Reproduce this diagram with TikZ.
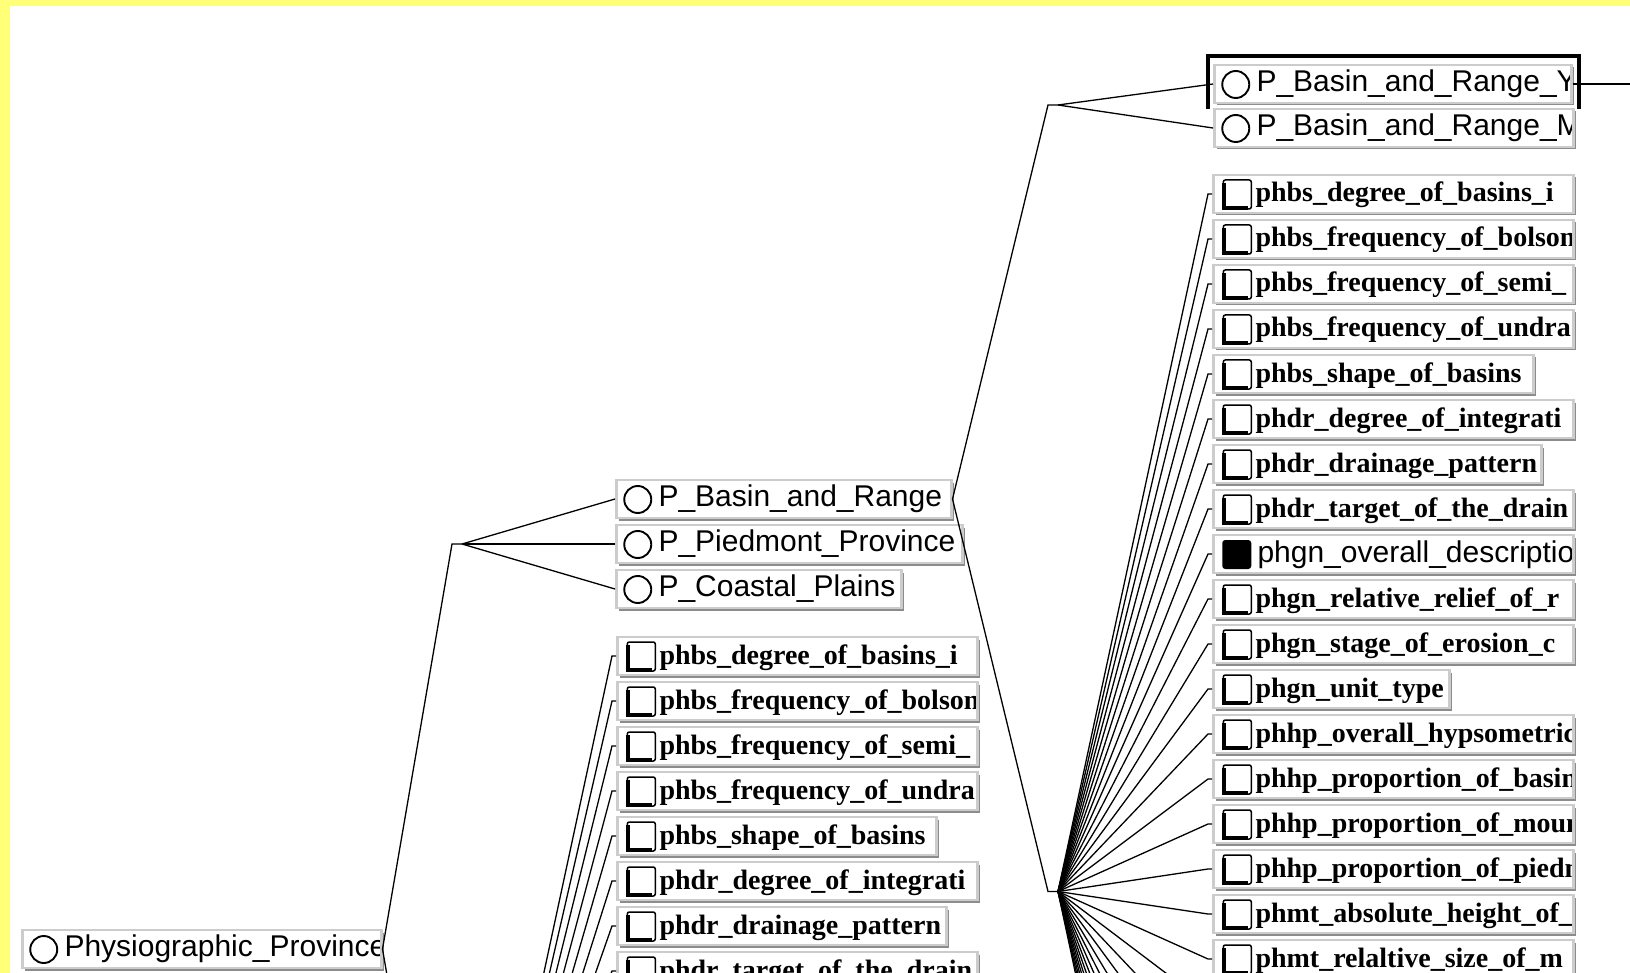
\documentclass[tikz,border=0pt]{standalone}
\usepackage{fontspec}
\newfontfamily\clsfont{Liberation Sans}
\newfontfamily\slotfont{Liberation Serif}
\usetikzlibrary{shadows}
\definecolor{frameyellow}{RGB}{255,255,120}

\begin{document}
\begin{tikzpicture}[x=1pt, y=-1pt]
        % Define styles
        \tikzset{
          box/.style={rectangle, draw=gray!40, line width=2.5pt, fill=white, inner sep=0pt, minimum height=38pt, anchor=west,
            drop shadow={shadow xshift=2.5pt, shadow yshift=-2.5pt, fill=gray!90, opacity=1}},
          boxtext/.style={anchor=base west, inner sep=0pt, minimum width=0pt, minimum height=0pt, draw=none, fill=none, text=black},
          clsbox/.style 2 args={box, minimum width=#1, path picture={
            \coordinate (o) at (path picture bounding box.west);
            \draw[black, line width=1.9pt] ([xshift=21.5pt, yshift=-0.5pt]o) circle[radius=13.5pt];
            \node[boxtext, font=\clsfont\fontsize{30}{30}\selectfont] at ([xshift=41pt, yshift=-7.5pt]o) {#2};}},
          slotbox/.style 2 args={box, minimum width=#1, path picture={
            \coordinate (o) at (path picture bounding box.west);
            \draw[black, line width=1.5pt, rounded corners=2pt] ([xshift=10pt, yshift=14pt]o) rectangle ([xshift=38pt, yshift=-15pt]o);
            \draw[black, line width=3.8pt] ([xshift=11pt, yshift=11pt]o) -- ([xshift=11pt, yshift=-14pt]o) -- ([xshift=35pt, yshift=-14pt]o);
            \node[boxtext, font=\slotfont\bfseries\fontsize{28}{28}\selectfont] at ([xshift=41pt, yshift=-8pt]o) {#2};}},
          ownbox/.style 2 args={box, minimum width=#1, path picture={
            \coordinate (o) at (path picture bounding box.west);
            \fill[black, rounded corners=3pt] ([xshift=9pt, yshift=14pt]o) rectangle ([xshift=38pt, yshift=-15pt]o);
            \node[boxtext, font=\clsfont\fontsize{30}{30}\selectfont] at ([xshift=43pt, yshift=-8pt]o) {#2};}},
          conn/.style={line width=1.3pt, black},
          selframe/.style={line width=4pt, black}
        }

        % Canvas with yellow frame
        \useasboundingbox (0,0) rectangle (1630,973);
        \fill[frameyellow] (0,0) rectangle (1630,973);
        \fill[white] (10,6) rectangle (1630,973);
        \clip (10,6) rectangle (1630,973);

        % Root class
        \node (phys) [clsbox={359pt}{Physiographic\_Province}] at (21,949) {};

        % Subclasses of the root
        \node (pbr) [clsbox={335pt}{P\_Basin\_and\_Range}] at (615,499) {};
        \node (ppp) [clsbox={346pt}{P\_Piedmont\_Province}] at (615,544) {};
        \node (pcp) [clsbox={285pt}{P\_Coastal\_Plains}] at (615,589) {};

        % Slots of the root
        \foreach \w/\lbl [count=\i from 0] in {360/phbs\_degree\_of\_basins\_i, 360/phbs\_frequency\_of\_bolson,
            360/phbs\_frequency\_of\_semi\_, 360/phbs\_frequency\_of\_undra, 319/phbs\_shape\_of\_basins,
            360/phdr\_degree\_of\_integrati, 329/phdr\_drainage\_pattern, 360/phdr\_target\_of\_the\_drain} {
          \node (ms\i) [slotbox={\w pt}{\lbl}] at (616,656+45*\i) {};
          \coordinate (msw\i) at (ms\i.west);
        }
        \foreach \i in {8,...,31} \coordinate (msw\i) at (614.75,656+45*\i);

        % Subclasses of P_Basin_and_Range
        \node (pbry) [clsbox={357pt}{P\_Basin\_and\_Range\_Y}] at (1213,84) {};
        \coordinate (pbrynext) at (1700,84);
        \draw[conn] (pbry.east) -- (pbrynext);
        \draw[selframe] ([xshift=-5pt, yshift=-5pt]pbry.south west) -- ([xshift=-5pt, yshift=8pt]pbry.north west)
          -- ([xshift=6pt, yshift=8pt]pbry.north east) -- ([xshift=6pt, yshift=-5pt]pbry.south east);
        \node (pbrm) [clsbox={359pt}{P\_Basin\_and\_Range\_M}] at (1213,128) {};

        % Slots of P_Basin_and_Range
        \foreach \w/\lbl [count=\i from 0] in {360/phbs\_degree\_of\_basins\_i, 360/phbs\_frequency\_of\_bolson,
            360/phbs\_frequency\_of\_semi\_, 360/phbs\_frequency\_of\_undra, 320/phbs\_shape\_of\_basins,
            360/phdr\_degree\_of\_integrati, 328/phdr\_drainage\_pattern, 360/phdr\_target\_of\_the\_drain,
            360/phgn\_overall\_descriptio, 360/phgn\_relative\_relief\_of\_r, 360/phgn\_stage\_of\_erosion\_c,
            236/phgn\_unit\_type, 360/phhp\_overall\_hypsometric, 360/phhp\_proportion\_of\_basin,
            360/phhp\_proportion\_of\_moun, 360/phhp\_proportion\_of\_piedm, 360/phmt\_absolute\_height\_of\_,
            360/phmt\_relaltive\_size\_of\_m} {
          \ifnum\i=8
            \node (rs\i) [ownbox={\w pt}{\lbl}] at (1212,194+45*\i) {};
          \else
            \node (rs\i) [slotbox={\w pt}{\lbl}] at (1212,194+45*\i) {};
          \fi
          \coordinate (rsw\i) at (rs\i.west);
        }
        \foreach \i in {18,...,31} \coordinate (rsw\i) at (1210.75,194+45*\i);

        % Connectors from the root
        \coordinate (jsub) at (452,544);
        \coordinate (jatt) at (452,1353.5);
        \draw[conn] (phys.east) -- (jsub) -- ++(10,0) coordinate (jsubr);
        \draw[conn] (phys.east) -- (jatt) -- ++(10,0) coordinate (jattr);
        \foreach \n in {pbr, ppp, pcp} \draw[conn] (jsubr) -- (\n.west);
        \foreach \i in {0,...,31} \draw[conn] (jattr) -- ([xshift=-4pt]msw\i) -- (msw\i);

        % Connectors from P_Basin_and_Range
        \coordinate (jbr) at (1048,105);
        \coordinate (jbra) at (1048,891.5);
        \draw[conn] (pbr.east) -- (jbr) -- ++(10,0) coordinate (jbrr);
        \draw[conn] (pbr.east) -- (jbra) -- ++(10,0) coordinate (jbrar);
        \draw[conn] (jbrr) -- (pbry.west);
        \draw[conn] (jbrr) -- (pbrm.west);
        \foreach \i in {0,...,31} \draw[conn] (jbrar) -- ([xshift=-4pt]rsw\i) -- (rsw\i);
\end{tikzpicture}
\end{document}
